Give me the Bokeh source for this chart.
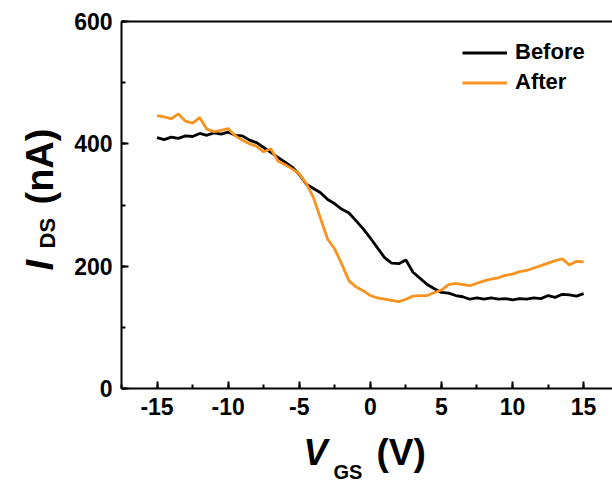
import math
from bokeh.plotting import figure
from bokeh.models import (Range1d, SingleIntervalTicker, FixedTicker, Label, Legend,
                          LegendItem, LinearAxis, CustomJSTickFormatter)
from bokeh.embed import file_html
from bokeh.resources import INLINE

# ---- data ----
vgs = [-15.0, -14.5, -14.0, -13.5, -13.0, -12.5, -12.0, -11.5, -11.0, -10.5,
       -10.0, -9.5, -9.0, -8.5, -8.0, -7.5, -7.0, -6.5, -6.0, -5.5,
       -5.0, -4.5, -4.0, -3.5, -3.0, -2.5, -2.0, -1.5, -1.0, -0.5,
       0.0, 0.5, 1.0, 1.5, 2.0, 2.5, 3.0, 3.5, 4.0, 4.5,
       5.0, 5.5, 6.0, 6.5, 7.0, 7.5, 8.0, 8.5, 9.0, 9.5,
       10.0, 10.5, 11.0, 11.5, 12.0, 12.5, 13.0, 13.5, 14.0, 14.5, 15.0]

ids_before = [410, 407, 411, 409, 413, 412, 417, 414, 418, 416,
              419, 414, 413, 406, 402, 394, 386, 378, 370, 362,
              350, 334, 327, 320, 309, 302, 293, 287, 274, 261,
              246, 230, 214, 205, 204, 210, 190, 180, 170, 163,
              157, 156, 152, 150, 146, 148, 146, 148, 146, 147,
              145, 147, 146, 148, 147, 152, 149, 154, 153, 151, 155]

ids_after = [446, 444, 441, 449, 437, 434, 443, 424, 420, 422,
             425, 413, 406, 400, 396, 387, 392, 372, 366, 359,
             351, 335, 312, 278, 244, 228, 203, 176, 166, 160,
             152, 148, 146, 144, 142, 146, 151, 152, 152, 157,
             161, 170, 172, 170, 168, 172, 176, 179, 181, 185,
             187, 191, 193, 197, 201, 205, 209, 212, 202, 208, 207]

series_names = ["Before", "After"]
series_colors = ["#000000", "#F7931E"]

x_lo, x_hi = -17.5, 17.5     # axis box in data units
y_lo, y_hi = 0, 600
x_ticks_interval = 5
y_ticks_interval = 200

FONT = "Liberation Sans"

# the frame covers the whole canvas; axes sit at fixed data locations so that
# the axis titles (labels) live inside the frame and are not clipped
p = figure(width=612, height=483, output_backend="svg", toolbar_location=None,
           x_range=Range1d(-26.01, 17.03), y_range=Range1d(-155.3, 634.33),
           x_axis_location=None, y_axis_location=None,
           min_border_left=0, min_border_right=0, min_border_top=0,
           min_border_bottom=0)
p.outline_line_color = None
p.grid.visible = False
p.background_fill_color = "white"
p.border_fill_color = "white"

fmt = "return String(tick)"

def style_axis(ax):
    ax.axis_line_width = 2
    ax.axis_line_color = "black"
    ax.major_tick_line_width = 2
    ax.minor_tick_line_width = 2
    ax.major_tick_line_color = "black"
    ax.minor_tick_line_color = "black"
    ax.major_tick_in = 7
    ax.major_tick_out = 0
    ax.minor_tick_in = 4
    ax.minor_tick_out = 0
    ax.major_label_text_font = FONT
    ax.major_label_text_font_style = "bold"
    ax.major_label_text_font_size = "23px"
    ax.major_label_text_color = "black"

xaxis = LinearAxis(fixed_location=y_lo, bounds=(x_lo, x_hi),
                   ticker=SingleIntervalTicker(interval=x_ticks_interval, num_minor_ticks=2),
                   formatter=CustomJSTickFormatter(code=fmt))
style_axis(xaxis)
xaxis.major_label_standoff = 9
p.add_layout(xaxis, "below")

yaxis = LinearAxis(fixed_location=x_lo, bounds=(y_lo, y_hi),
                   ticker=SingleIntervalTicker(interval=y_ticks_interval, num_minor_ticks=2),
                   formatter=CustomJSTickFormatter(code=fmt))
style_axis(yaxis)
yaxis.major_label_standoff = 9
p.add_layout(yaxis, "left")

# top spine (axis line only)
topaxis = LinearAxis(fixed_location=y_hi, bounds=(x_lo, x_hi),
                     ticker=FixedTicker(ticks=[], minor_ticks=[]),
                     major_tick_line_color=None, minor_tick_line_color=None,
                     axis_line_width=2, axis_line_color="black")
p.add_layout(topaxis, "above")

r1 = p.line(vgs, ids_before, line_color=series_colors[0], line_width=2.8)
r2 = p.line(vgs, ids_after, line_color=series_colors[1], line_width=2.8)

legend = Legend(items=[LegendItem(label=series_names[0], renderers=[r1]),
                       LegendItem(label=series_names[1], renderers=[r2])],
                location=(462, 388), padding=0, margin=0, spacing=4,
                glyph_width=45, glyph_height=25, label_height=25, label_standoff=8,
                border_line_color=None, background_fill_alpha=0,
                label_text_font=FONT, label_text_font_style="bold",
                label_text_font_size="22px", label_text_color="black")
p.add_layout(legend)

# axis titles built from parts (italic symbol + subscript + unit)
def lab(text, x, y, size, style, angle=0.0):
    p.add_layout(Label(x=x, y=y, x_units="screen", y_units="screen", text=text,
                       text_font=FONT, text_font_size=size, text_font_style=style,
                       text_color="black", text_baseline="alphabetic",
                       text_align="left", angle=angle))

lab("V", 303, 31, "36px", "bold italic")
lab("GS", 333, 12, "20px", "bold")
lab("(V)", 376, 31, "37px", "bold")

lab("I", 39, 213, "38px", "bold italic", math.pi / 2)
lab("DS", 47, 235, "22px", "bold", math.pi / 2)
lab("(nA)", 39, 279, "38px", "bold", math.pi / 2)

open("out.html", "w").write(file_html(p, INLINE))
